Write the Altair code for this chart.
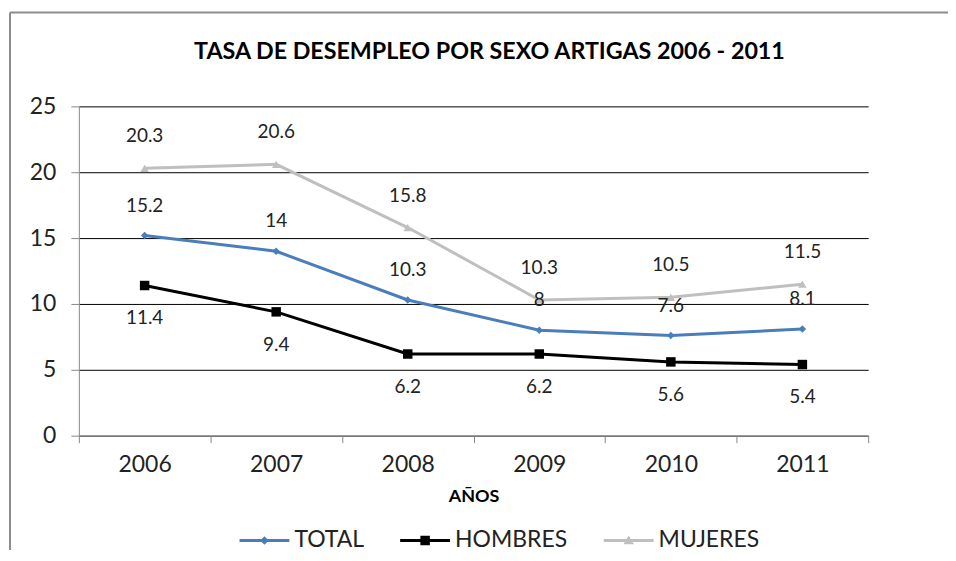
import altair as alt
import pandas as pd

years = ["2006", "2007", "2008", "2009", "2010", "2011"]
series_names = ["TOTAL", "HOMBRES", "MUJERES"]
total = [15.2, 14, 10.3, 8, 7.6, 8.1]
hombres = [11.4, 9.4, 6.2, 6.2, 5.6, 5.4]
mujeres = [20.3, 20.6, 15.8, 10.3, 10.5, 11.5]
colors = ["#4A7EBB", "#000000", "#BFBFBF"]
marker_shapes = ["diamond", "square", "triangle-up"]
marker_sizes = [55, 90, 70]

rows = []
for name, vals in zip(series_names, [total, hombres, mujeres]):
    for y, v in zip(years, vals):
        # legend key uses a distinct domain (trailing space) so it is not merged with the hidden color legend
        rows.append({"year": y, "serie": name, "leg": name + " ", "value": v})
df = pd.DataFrame(rows)
leg_names = [s + " " for s in series_names]

# legend symbols: a line segment with the series marker in its middle (unit box -1..1)
seg = "M-1,-0.06L1,-0.06L1,0.06L-1,0.06Z"
legend_paths = [
    seg + "M0,-0.17L0.17,0L0,0.17L-0.17,0Z",
    seg + "M-0.19,-0.19L0.19,-0.19L0.19,0.19L-0.19,0.19Z",
    seg + "M0,-0.2L0.21,0.15L-0.21,0.15Z",
]

FONT = "Lato"
LEG_FS = 23

x_enc = alt.X("year:N", sort=years, scale=alt.Scale(paddingInner=0, paddingOuter=0),
              axis=alt.Axis(title="AÑOS", labelAngle=0, domainColor="#888", tickColor="#888",
                            tickSize=7, tickBand="extent", labelPadding=11, titlePadding=11,
                            titleFontSize=18, titleFontWeight="bold", titleFont=FONT, grid=False))
y_enc = alt.Y("value:Q", scale=alt.Scale(domain=[0, 25]),
              axis=alt.Axis(title=None, values=[0, 5, 10, 15, 20, 25], domainColor="#888",
                            tickColor="#888", tickSize=8, labelPadding=15, grid=True,
                            gridColor="black", gridOpacity=1, gridWidth=1))
color_enc = alt.Color("serie:N", sort=series_names,
                      scale=alt.Scale(domain=series_names, range=colors), legend=None)

base = alt.Chart(df)
lines = base.mark_line(strokeWidth=3).encode(x=x_enc, y=y_enc, color=color_enc)

point_layers = [
    base.transform_filter(alt.datum.serie == name).mark_point(
        filled=True, opacity=1, shape=shp, size=sz).encode(x=x_enc, y=y_enc, color=color_enc)
    for name, shp, sz in zip(series_names, marker_shapes, marker_sizes)
]

legend_layer = base.mark_point(opacity=0, filled=True).encode(
    x=x_enc, y=y_enc, color=color_enc,
    shape=alt.Shape("leg:N", sort=leg_names,
                    scale=alt.Scale(domain=leg_names, range=legend_paths),
                    legend=alt.Legend(title=None, orient="none", direction="horizontal",
                                      legendX=161, legendY=410, symbolSize=2500,
                                      symbolStrokeWidth=0, labelOffset=5,
                                      columnPadding=36, labelFontSize=LEG_FS, labelFont=FONT,
                                      labelColor="#222", symbolOpacity=1,
                                      labelExpr="trim(datum.label)",
                                      symbolFillColor={"expr": "scale('color', trim(datum.value))"})))

def labels(name, dy):
    return base.transform_filter(alt.datum.serie == name).mark_text(
        dy=dy, fontSize=19, font=FONT, color="#222").encode(
        x=x_enc, y=y_enc, text=alt.Text("value:Q", format=".1~f"))

frame_data = alt.Data(values=[{}])
frame_v = alt.Chart(frame_data).mark_rule(color="#8c8c8c", strokeWidth=2).encode(
    x=alt.value(-69), y=alt.value(-94), y2=alt.value(460))
frame_h = alt.Chart(frame_data).mark_rule(color="#8c8c8c", strokeWidth=2).encode(
    x=alt.value(-69), x2=alt.value(900), y=alt.value(-94))

chart = alt.layer(frame_v, frame_h, lines, *point_layers, legend_layer,
                  labels("MUJERES", -32), labels("TOTAL", -30), labels("HOMBRES", 33)).properties(
    width=791, height=330,
    title=alt.TitleParams("TASA DE DESEMPLEO POR SEXO ARTIGAS 2006 - 2011", fontSize=23.3,
                          font=FONT, fontWeight="bold", anchor="middle", frame="group",
                          offset=46, dy=99, dx=16, color="black"),
    autosize=alt.AutoSizeParams(type="none"),
    padding={"left": 71, "top": 98, "right": 80, "bottom": 114},
).configure_view(stroke=None).configure_axis(
    labelFont=FONT, labelFontSize=23, labelColor="#222", titleColor="black"
)

chart.save("out.html", embed_options={"renderer": "svg", "actions": False})
